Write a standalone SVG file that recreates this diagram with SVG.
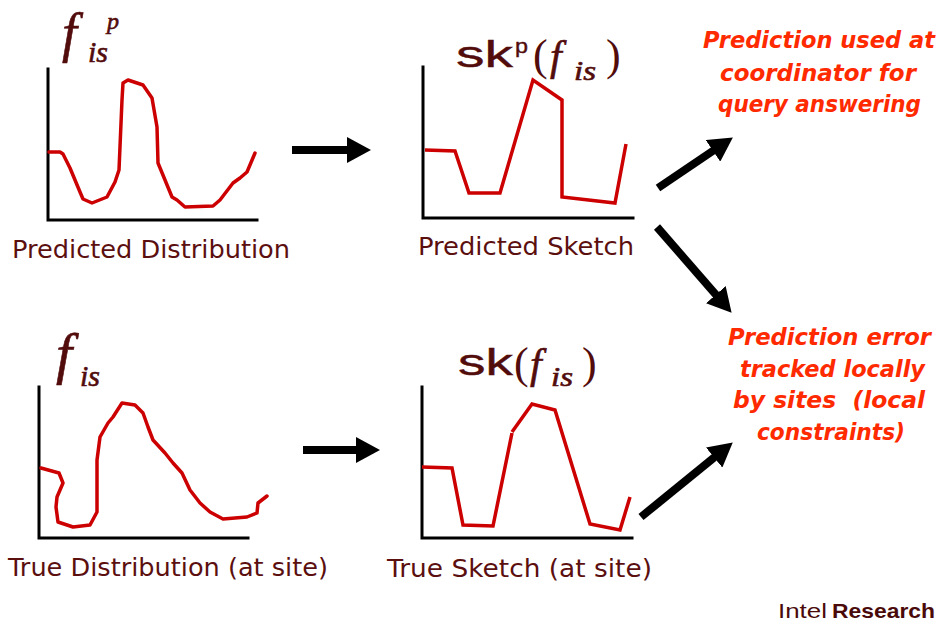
<svg xmlns="http://www.w3.org/2000/svg" width="942" height="623" viewBox="0 0 942 623">
<style>
.axis{fill:none;stroke:#000;stroke-width:3;stroke-linecap:square}
.curve{fill:none;stroke:#cc0000;stroke-width:3.5;stroke-linejoin:round;stroke-linecap:round}
.sk{fill:none;stroke:#cc0000;stroke-width:3.5;stroke-linejoin:miter;stroke-linecap:butt}
.lbl{font-family:"DejaVu Sans","Noto Sans",sans-serif;font-size:24px;fill:#5c0f0f}
.math{font-family:"Liberation Serif","Times New Roman",serif;font-style:italic;fill:#520c0c;stroke:#520c0c;stroke-width:0.6}
.up{font-family:"Liberation Serif","Times New Roman",serif;fill:#520c0c}
.sans{font-family:"Liberation Sans",Arial,sans-serif;fill:#520c0c;stroke:#520c0c;stroke-width:0.4}
.note{font-family:"DejaVu Sans","Noto Sans",sans-serif;font-size:23px;font-weight:bold;font-style:italic;fill:#ff2a00}
.arrow{stroke:#000;stroke-width:8;fill:none}
.brand{font-family:"Liberation Sans",Arial,sans-serif;font-size:21px;fill:#4a0a0a}
</style>
<defs>
<marker id="head" markerUnits="userSpaceOnUse" markerWidth="24" markerHeight="26" viewBox="0 0 24 26" refX="1" refY="13" orient="auto">
<path d="M0,0 L24,13 L0,26 z" fill="#000"/>
</marker>
</defs>

<g id="predicted-distribution">
<path class="axis" d="M48,69 L48,220 L257,220"/>
<path class="curve" d="M49,152 L60,152 L63,154 L70,168 L80,192 L83,199 L92,203 L107,197 L115,182 L119,170 L122,100 L123,83 L128,80 L143,85 L152,98 L157,127 L158,163 L165,180 L172,197 L177,200 L185,207 L213,206 L220,200 L233,183 L240,178 L247,172 L255,153"/>
<text class="math" x="62" y="51" font-size="54">f</text>
<text class="math" x="88" y="62" font-size="30">is</text>
<text class="math" x="107" y="29" font-size="24">p</text>
<text class="lbl" x="12" y="258" textLength="278" lengthAdjust="spacingAndGlyphs">Predicted Distribution</text>
</g>

<g id="predicted-sketch">
<path class="axis" d="M423,67 L423,218 L633,218"/>
<path class="sk" d="M425,150 L455,151 L469,193 L500,193 L533,80 L562,100 L562,197 L615,203 L626,144"/>
<text class="sans" x="456" y="67" font-size="36" textLength="57" lengthAdjust="spacingAndGlyphs">sk</text>
<text class="sans" x="515" y="53" font-size="21" textLength="13" lengthAdjust="spacingAndGlyphs">p</text>
<text class="up" x="533" y="70" font-size="44">(</text>
<text class="math" x="550" y="70" font-size="42">f</text>
<text class="math" x="574" y="80" font-size="27" textLength="22" lengthAdjust="spacingAndGlyphs">is</text>
<text class="up" x="606" y="70" font-size="44">)</text>
<text class="lbl" x="418" y="255" textLength="216" lengthAdjust="spacingAndGlyphs">Predicted Sketch</text>
</g>

<g id="true-distribution">
<path class="axis" d="M39,387 L39,538 L248,538"/>
<path class="curve" d="M41,468 L59,473 L63,483 L57,497 L56,507 L58,522 L73,527 L90,525 L97,512 L97,460 L100,437 L108,423 L113,417 L122,403 L135,405 L143,413 L148,427 L153,440 L165,453 L173,463 L182,473 L190,490 L200,503 L210,512 L223,519 L247,517 L257,513 L258,503 L267,496"/>
<text class="math" x="56" y="373" font-size="58">f</text>
<text class="math" x="80" y="386" font-size="30">is</text>
<text class="lbl" x="8" y="576" textLength="320" lengthAdjust="spacingAndGlyphs">True Distribution (at site)</text>
</g>

<g id="true-sketch">
<path class="axis" d="M422,387 L422,538 L632,538"/>
<path class="sk" d="M422,467 L452,468 L463,525 L493,526 L512,433"/>
<path class="sk" d="M512,432 L532,404 L555,410 L590,524 L620,530 L630,497"/>
<text class="sans" x="458" y="375" font-size="36" textLength="55" lengthAdjust="spacingAndGlyphs">sk</text>
<text class="up" x="514" y="378" font-size="44">(</text>
<text class="math" x="530" y="378" font-size="42">f</text>
<text class="math" x="551" y="386" font-size="27" textLength="22" lengthAdjust="spacingAndGlyphs">is</text>
<text class="up" x="582" y="378" font-size="44">)</text>
<text class="lbl" x="387" y="577" textLength="265" lengthAdjust="spacingAndGlyphs">True Sketch (at site)</text>
</g>

<g id="note-coordinator">
<text class="note" x="703" y="48" textLength="232" lengthAdjust="spacingAndGlyphs">Prediction used at</text>
<text class="note" x="720" y="81" textLength="196" lengthAdjust="spacingAndGlyphs">coordinator for</text>
<text class="note" x="718" y="112" textLength="203" lengthAdjust="spacingAndGlyphs">query answering</text>
</g>

<g id="note-sites">
<text class="note" x="728" y="345" textLength="203" lengthAdjust="spacingAndGlyphs">Prediction error</text>
<text class="note" x="740" y="377" textLength="185" lengthAdjust="spacingAndGlyphs">tracked locally</text>
<text class="note" x="733" y="408" textLength="192" lengthAdjust="spacingAndGlyphs" xml:space="preserve">by sites  (local</text>
<text class="note" x="757" y="440" textLength="148" lengthAdjust="spacingAndGlyphs">constraints)</text>
</g>

<g id="connectors">
<line class="arrow" x1="292" y1="150" x2="348" y2="150" marker-end="url(#head)"/>
<line class="arrow" x1="303" y1="450" x2="357" y2="450" marker-end="url(#head)"/>
<line class="arrow" x1="658" y1="188" x2="713.8" y2="150.3" marker-end="url(#head)"/>
<line class="arrow" x1="657" y1="227" x2="716.5" y2="295.4" marker-end="url(#head)"/>
<line class="arrow" x1="641" y1="517" x2="714.9" y2="456.9" marker-end="url(#head)"/>
</g>

<g id="brand">
<text class="brand" x="778" y="618" textLength="49" lengthAdjust="spacingAndGlyphs">Intel</text>
<text class="brand" x="832" y="618" font-weight="bold" textLength="103" lengthAdjust="spacingAndGlyphs">Research</text>
</g>
</svg>
